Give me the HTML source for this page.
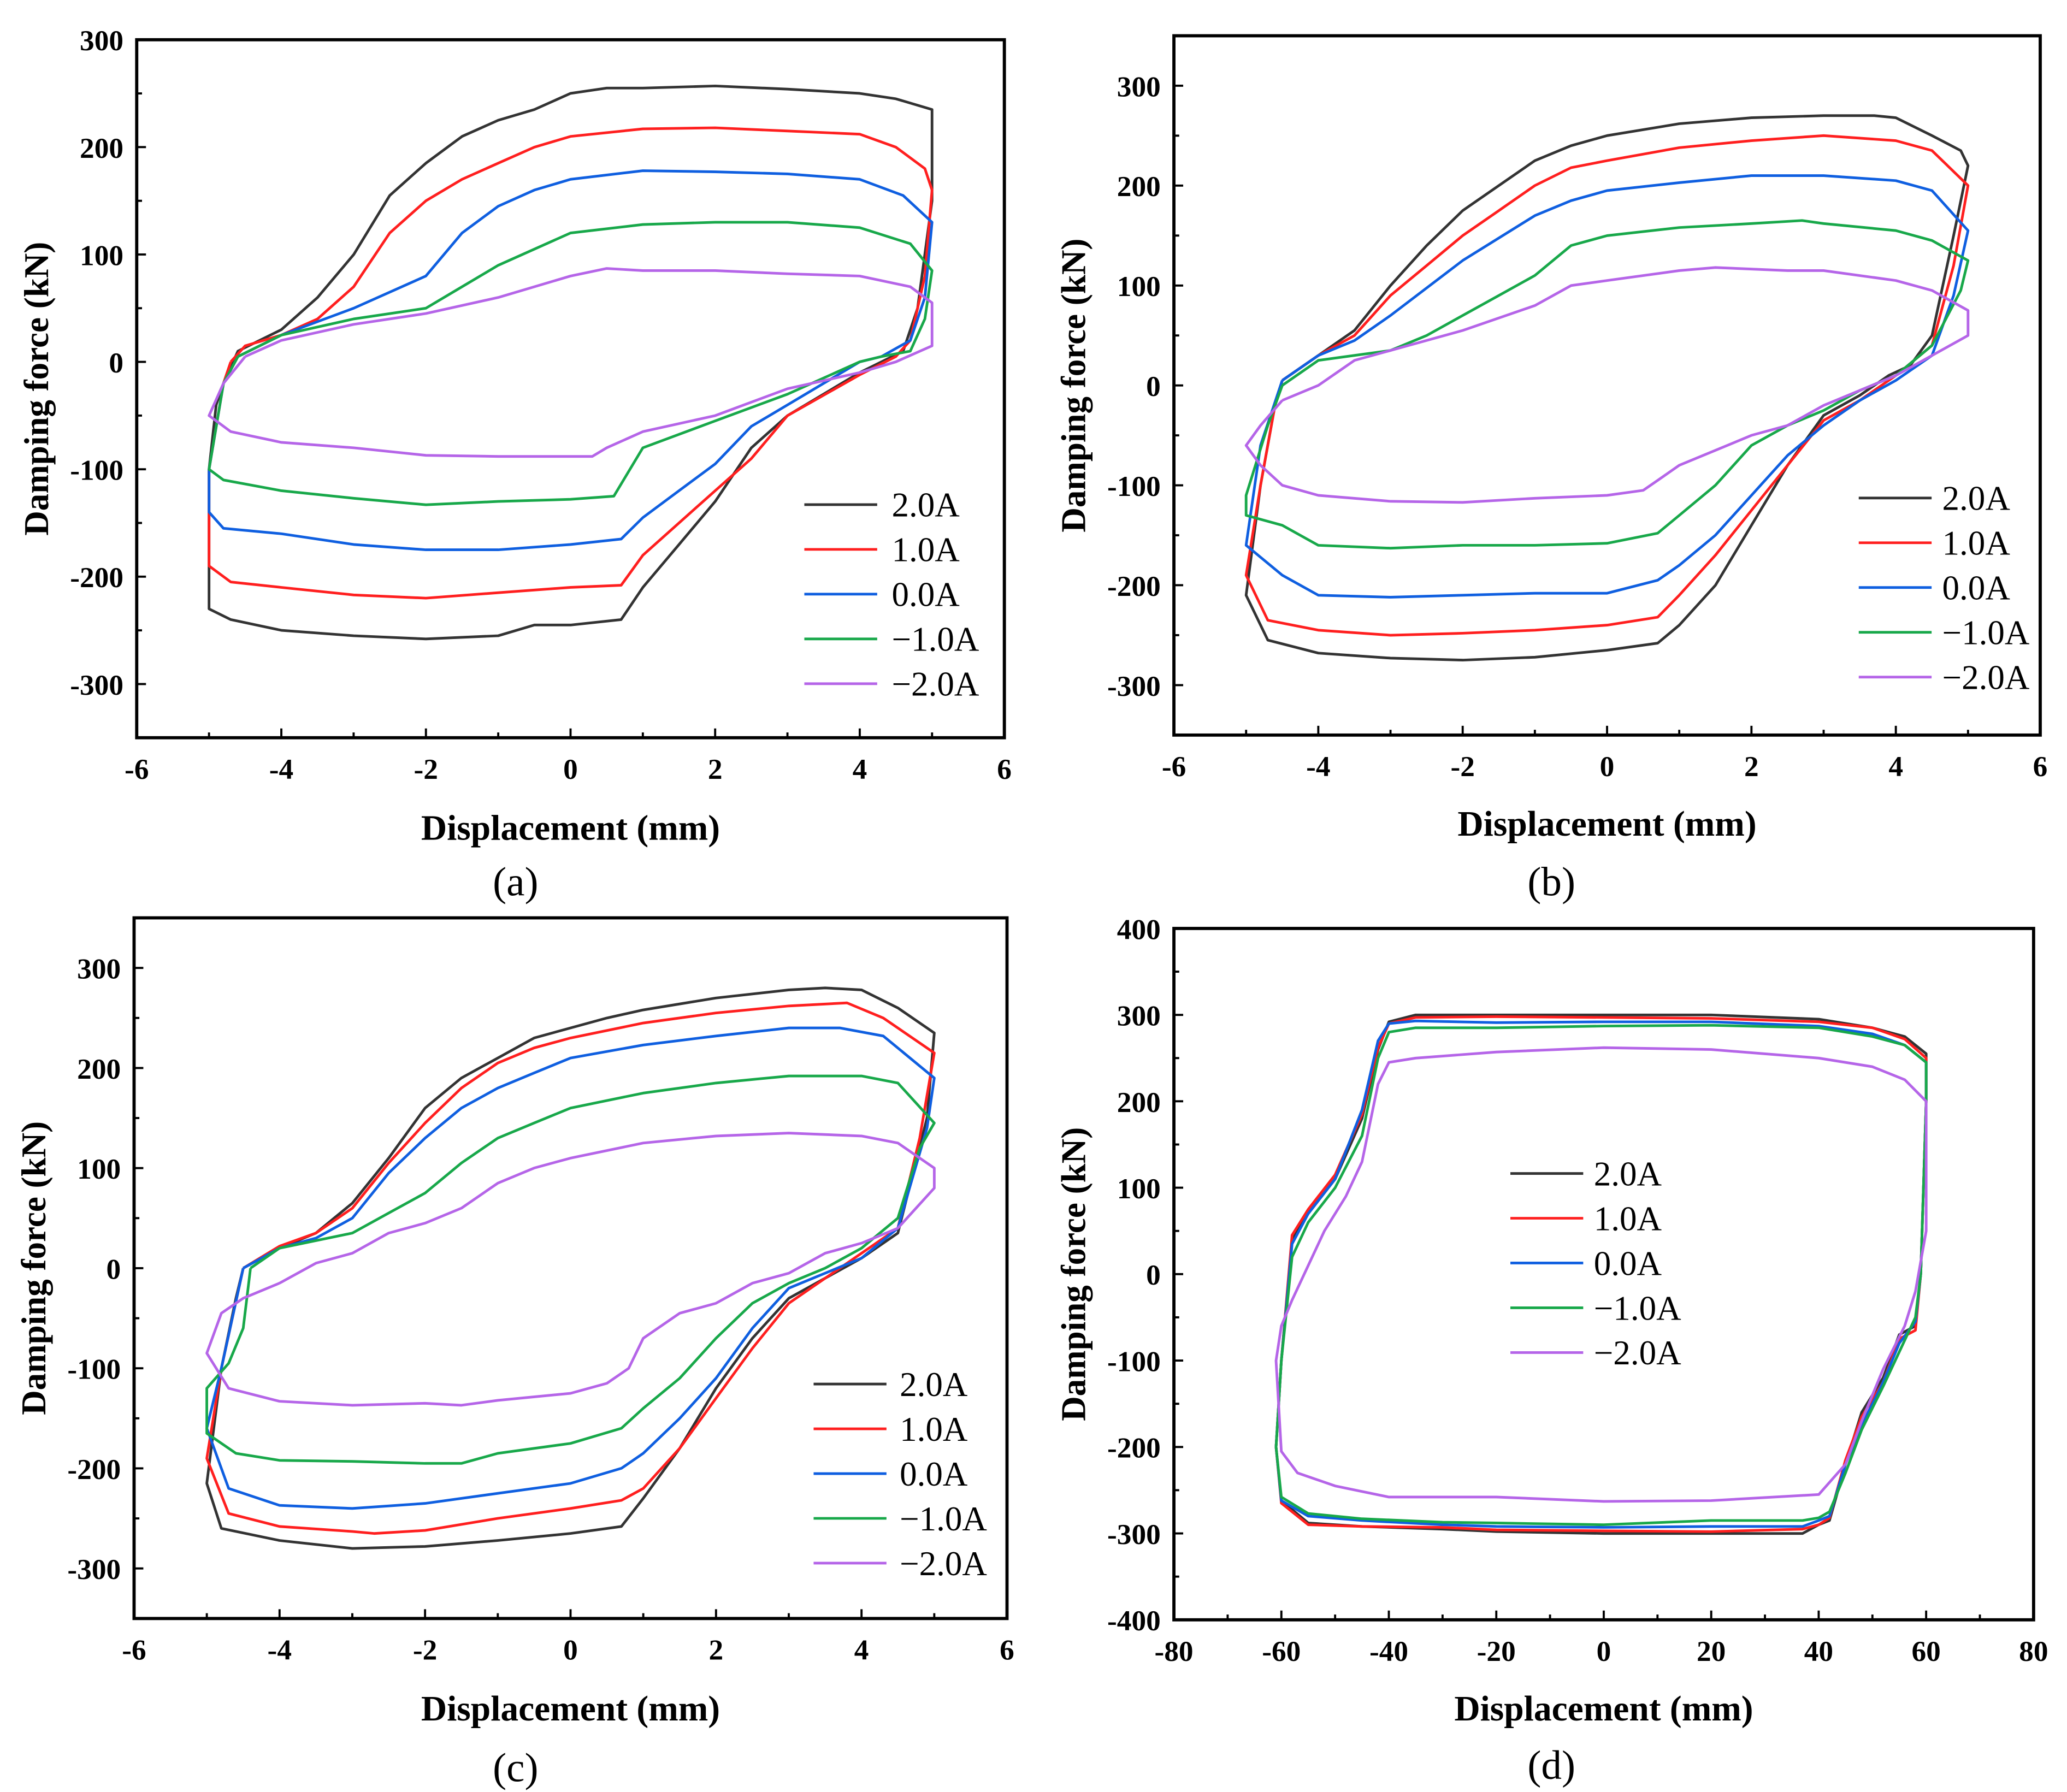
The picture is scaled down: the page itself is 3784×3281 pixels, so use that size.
<!DOCTYPE html>
<html><head><meta charset="utf-8"><style>
html,body{margin:0;padding:0;background:#fff;}
svg{display:block;font-family:"Liberation Serif",serif;}
</style></head><body>
<svg id="fig" width="3784" height="3281" viewBox="0 0 1560 1353" xmlns="http://www.w3.org/2000/svg"></svg>
<script>
// ---------- Panel (a) data ----------
const a2x=[-4.8,-4.6,-4,-3.5,-3,-2.5,-2,-1.5,-1,-0.5,0,0.5,1,2,3,4,4.5,5,5,4.8,4.6,4,3,2.5,2,1.5,1,0.7,0,-0.5,-1,-2,-3,-4,-4.7,-5,-5,-4.9,-4.8];
const a2y=[-20,10,30,60,100,155,185,210,225,235,250,255,255,257,254,250,245,235,150,50,10,-10,-50,-80,-130,-170,-210,-240,-245,-245,-255,-258,-255,-250,-240,-230,-100,-40,-20];
const a1x=[-4.7,-4.5,-4,-3.5,-3,-2.5,-2,-1.5,-1,-0.5,0,1,2,3,4,4.5,4.9,5,4.9,4.7,4.5,4,3,2.5,2,1.5,1,0.7,0,-1,-2,-3,-4,-4.7,-5,-5,-4.8,-4.7];
const a1y=[0,15,25,40,70,120,150,170,185,200,210,217,218,215,212,200,180,160,80,20,5,-12,-50,-90,-120,-150,-180,-208,-210,-215,-220,-217,-210,-205,-190,-100,-20,0];
const a0x=[-4.6,-4,-3,-2,-1.5,-1,-0.5,0,1,2,3,4,4.6,5,4.9,4.7,4.3,4,3,2.5,2,1.5,1,0.7,0,-1,-2,-3,-4,-4.8,-5,-5,-4.8,-4.6];
const a0y=[5,25,50,80,120,145,160,170,178,177,175,170,155,130,60,20,5,0,-40,-60,-95,-120,-145,-165,-170,-175,-175,-170,-160,-155,-140,-100,-20,5];
const am1x=[-4.6,-4,-3,-2,-1.5,-1,0,1,2,3,4,4.7,5,4.9,4.7,4.3,4,3,2,1,0.6,0,-1,-2,-3,-4,-4.8,-5,-4.8,-4.6];
const am1y=[5,25,40,50,70,90,120,128,130,130,125,110,85,40,10,5,0,-30,-55,-80,-125,-128,-130,-133,-127,-120,-110,-100,-20,5];
const am2x=[-4.5,-4,-3,-2,-1,0,0.5,1,2,3,4,4.7,5,5,4.5,4,3,2,1,0.5,0.3,0,-1,-2,-3,-4,-4.7,-5,-4.8,-4.5];
const am2y=[5,20,35,45,60,80,87,85,85,82,80,70,55,15,0,-10,-25,-50,-65,-80,-88,-88,-88,-87,-80,-75,-65,-50,-20,5];
// ---------- Panel (b) data ----------
const b2x=[-4.5,-4,-3.5,-3,-2.5,-2,-1.5,-1,-0.5,0,1,2,3,3.7,4,4.5,4.9,5,4.8,4.5,4.2,3.9,3.5,3,2.5,2,1.5,1,0.7,0,-1,-2,-3,-4,-4.7,-5,-4.8,-4.6,-4.5];
const b2y=[5,30,55,100,140,175,200,225,240,250,262,268,270,270,268,250,235,220,150,50,20,10,-10,-30,-80,-140,-200,-240,-258,-265,-272,-275,-273,-268,-255,-210,-100,-20,5];
const b1x=[-4.5,-4,-3.5,-3,-2.5,-2,-1.5,-1,-0.5,0,1,2,3,4,4.5,5,4.8,4.5,4,3.5,3,2.5,2,1.5,1,0.7,0,-1,-2,-3,-4,-4.7,-5,-4.8,-4.6,-4.5];
const b1y=[5,30,50,90,120,150,175,200,218,225,238,245,250,245,235,200,120,40,10,-15,-35,-80,-125,-170,-210,-232,-240,-245,-248,-250,-245,-235,-190,-100,-20,5];
const b0x=[-4.5,-4,-3.5,-3,-2,-1,-0.5,0,1,2,3,4,4.5,5,4.8,4.5,4,3.5,3,2.5,2,1.5,1,0.7,0,-1,-2,-3,-4,-4.5,-5,-4.8,-4.5];
const b0y=[5,30,45,70,125,170,185,195,203,210,210,205,195,155,90,30,5,-15,-40,-70,-110,-150,-180,-195,-208,-208,-210,-212,-210,-190,-160,-60,5];
const bm1x=[-4.5,-4,-3,-2.5,-2,-1.5,-1,-0.5,0,1,2,2.7,3,4,4.5,5,4.9,4.5,4,3.5,3,2.5,2,1.5,1,0.7,0,-1,-2,-3,-4,-4.5,-5,-5,-4.7,-4.5];
const bm1y=[0,25,35,50,70,90,110,140,150,158,162,165,162,155,145,125,95,40,10,-5,-25,-40,-60,-100,-130,-148,-158,-160,-160,-163,-160,-140,-130,-110,-40,0];
const bm2x=[-4.5,-4,-3.5,-3,-2,-1,-0.5,0,1,1.5,2.5,3,4,4.5,5,5,4.5,4,3.5,3,2.5,2,1.5,1,0.7,0.5,0,-1,-2,-3,-4,-4.5,-4.8,-5,-4.8,-4.5];
const bm2y=[-15,0,25,35,55,80,100,105,115,118,115,115,105,95,75,50,30,10,-5,-20,-40,-50,-65,-80,-95,-105,-110,-113,-117,-116,-110,-100,-80,-60,-40,-15];
// ---------- Panel (c) data ----------
const c2x=[-4.5,-4,-3.5,-3,-2.5,-2,-1.5,-1,-0.5,0,0.5,1,2,3,3.5,4,4.5,5,4.9,4.5,4,3,2.5,2,1.5,1,0.7,0,-1,-2,-3,-4,-4.8,-5,-4.8,-4.6,-4.5];
const c2y=[0,20,35,65,110,160,190,210,230,240,250,258,270,278,280,278,260,235,150,35,10,-30,-70,-120,-180,-230,-258,-265,-272,-278,-280,-272,-260,-215,-100,-30,0];
const c1x=[-4.5,-4,-3.5,-3,-2.5,-2,-1.5,-1,-0.5,0,1,2,3,3.8,4.3,5,4.8,4.5,4,3,2.5,2,1.5,1,0.7,0,-1,-2,-2.7,-3,-4,-4.7,-5,-4.8,-4.5];
const c1y=[0,22,35,60,105,145,180,205,220,230,245,255,262,265,250,215,130,40,15,-35,-80,-130,-180,-220,-232,-240,-250,-262,-265,-263,-258,-245,-190,-100,0];
const c0x=[-4.5,-4,-3.5,-3,-2.5,-2,-1.5,-1,-0.5,0,1,2,3,3.7,4.3,5,4.9,4.5,4,3,2.5,2,1.5,1,0.7,0,-1,-2,-3,-4,-4.7,-5,-4.8,-4.5];
const c0y=[0,20,30,50,95,130,160,180,195,210,223,232,240,240,232,190,140,40,10,-20,-60,-110,-150,-185,-200,-215,-225,-235,-240,-237,-220,-160,-100,0];
const cm1x=[-4.4,-4,-3,-2.5,-2,-1.5,-1,-0.5,0,1,2,3,4,4.5,5,4.8,4.5,4,3.5,3,2.5,2,1.5,1,0.7,0,-1,-1.5,-2,-3,-4,-4.6,-5,-5,-4.7,-4.5,-4.4];
const cm1y=[0,20,35,55,75,105,130,145,160,175,185,192,192,185,145,120,50,20,0,-15,-35,-70,-110,-140,-160,-175,-185,-195,-195,-193,-192,-185,-165,-120,-95,-60,0];
const cm2x=[-4,-3.5,-3,-2.5,-2,-1.5,-1,-0.5,0,1,2,3,4,4.5,5,5,4.5,4,3.5,3,2.5,2,1.5,1,0.8,0.5,0,-1,-1.5,-2,-3,-4,-4.7,-5,-4.8,-4.5,-4];
const cm2y=[-15,5,15,35,45,60,85,100,110,125,132,135,132,125,100,80,40,25,15,-5,-15,-35,-45,-70,-100,-115,-125,-132,-137,-135,-137,-133,-120,-85,-45,-30,-15];
// ---------- Panel (d) data ----------
const d2x=[-60,-58,-55,-50,-45,-42,-40,-35,-20,0,20,40,50,56,60,60,59,58,55,52,48,45,42,40,37,20,0,-20,-30,-45,-55,-60,-61,-60];
const d2y=[-100,40,70,110,180,260,292,300,300,300,300,295,285,275,255,200,0,-60,-70,-120,-160,-220,-285,-290,-300,-300,-300,-298,-295,-292,-288,-262,-200,-100];
const d1x=[-60,-58,-55,-50,-45,-42,-40,-35,-20,0,20,40,50,56,60,60,59,58,55,52,48,45,42,40,37,20,0,-20,-30,-45,-55,-60,-61,-60];
const d1y=[-100,45,75,115,185,262,290,297,298,297,296,292,285,272,250,200,0,-65,-75,-125,-165,-215,-282,-290,-295,-298,-297,-296,-293,-292,-290,-265,-200,-100];
const d0x=[-60,-58,-55,-50,-45,-42,-40,-35,-20,0,20,40,50,56,60,60,59,58,55,52,48,45,42,40,37,20,0,-20,-30,-45,-55,-60,-61,-60];
const d0y=[-100,35,70,110,190,270,290,293,291,292,292,287,278,265,245,200,0,-55,-80,-125,-175,-220,-280,-285,-292,-292,-293,-292,-290,-285,-280,-262,-200,-100];
const dm1x=[-60,-58,-55,-50,-45,-42,-40,-35,-20,0,20,40,50,56,60,60,59,58,55,52,48,45,42,40,37,20,0,-20,-30,-45,-55,-60,-61,-60];
const dm1y=[-100,20,60,100,160,250,280,285,285,287,288,285,275,265,245,200,0,-50,-90,-130,-180,-230,-275,-282,-285,-285,-290,-288,-287,-283,-277,-258,-200,-100];
const dm2x=[-58,-55,-52,-48,-45,-42,-40,-35,-20,0,20,40,50,56,60,60,58,56,52,48,45,40,20,0,-20,-40,-50,-57,-60,-61,-60,-58];
const dm2y=[-30,10,50,90,130,220,245,250,257,262,260,250,240,225,200,50,-20,-60,-110,-170,-220,-255,-262,-263,-258,-258,-245,-230,-205,-100,-60,-30];

const legendNames=["2.0A","1.0A","0.0A","\u22121.0A","\u22122.0A"];
const colors=["#333333","#ff1f1f","#0f5fe0","#18a84a","#b565e8"];
const xTicksAB=[-6,-4,-2,0,2,4,6];
const yTicksA=[-300,-200,-100,0,100,200,300];
const xTicksD=[-80,-60,-40,-20,0,20,40,60,80];
const yTicksD=[-400,-300,-200,-100,0,100,200,300,400];

const NS="http://www.w3.org/2000/svg";
const svg=document.getElementById('fig');
function mk(tag,attrs,parent){const e=document.createElementNS(NS,tag);for(const k in attrs)e.setAttribute(k,attrs[k]);(parent||svg).appendChild(e);return e;}

const panels=[
 {id:"a",L:103,R:758,T:30,B:557,x0:-6,x1:6,y0:-350,y1:300,xt:xTicksAB,yt:yTicksA,xm:1,ym:50,
  series:[[a2x,a2y],[a1x,a1y],[a0x,a0y],[am1x,am1y],[am2x,am2y]],leg:{lx:607,tx:677,y:381,dy:33.8},
  ytx:27,xlab:625,cap:[389,666]},
 {id:"b",L:886,R:1540,T:27,B:555,x0:-6,x1:6,y0:-350,y1:350,xt:xTicksAB,yt:yTicksA,xm:1,ym:50,
  series:[[b2x,b2y],[b1x,b1y],[b0x,b0y],[bm1x,bm1y],[bm2x,bm2y]],leg:{lx:1403,tx:1470,y:376,dy:33.8},
  ytx:810,xlab:622,cap:[1171,666]},
 {id:"c",L:101,R:760,T:693,B:1222,x0:-6,x1:6,y0:-350,y1:350,xt:xTicksAB,yt:yTicksA,xm:1,ym:50,
  series:[[c2x,c2y],[c1x,c1y],[c0x,c0y],[cm1x,cm1y],[cm2x,cm2y]],leg:{lx:614,tx:683,y:1045,dy:33.8},
  ytx:25,xlab:1290,cap:[389,1335]},
 {id:"d",L:886,R:1535,T:701,B:1223,x0:-80,x1:80,y0:-400,y1:400,xt:xTicksD,yt:yTicksD,xm:10,ym:50,
  series:[[d2x,d2y],[d1x,d1y],[d0x,d0y],[dm1x,dm1y],[dm2x,dm2y]],leg:{lx:1140,tx:1207,y:886,dy:33.8},
  ytx:810,xlab:1290,cap:[1171,1333]}
];

panels.forEach(p=>{
  const g=mk('g',{});
  
  
  const sx=v=>p.L+(v-p.x0)/(p.x1-p.x0)*(p.R-p.L);
  const sy=v=>p.B-(v-p.y0)/(p.y1-p.y0)*(p.B-p.T);
  p.series.forEach((s,i)=>{
    const pts=s[0].map((x,j)=>sx(x).toFixed(1)+","+sy(s[1][j]).toFixed(1)).join(" ");
    const pl=mk('polyline',{points:pts,fill:"none",stroke:colors[i],"stroke-width":2,"stroke-linejoin":"round"},g);
    
    
  });
  const fr=mk('rect',{x:p.L,y:p.T,width:p.R-p.L,height:p.B-p.T,fill:"none",stroke:"#000","stroke-width":2.4},g);
  
  
  for(let v=p.x0;v<=p.x1+1e-9;v+=p.xm){
    const major=p.xt.some(t=>Math.abs(t-v)<1e-9);
    mk('line',{x1:sx(v),x2:sx(v),y1:p.B,y2:p.B-(major?7:4),stroke:"#000","stroke-width":1.6},g);
  }
  p.xt.forEach(v=>{
    const t=mk('text',{x:sx(v),y:p.B+31,"text-anchor":"middle","font-size":22,"font-weight":"bold"},g);
    t.textContent=v<0?"-"+Math.abs(v):String(v);
    
    
  });
  for(let v=Math.ceil(p.y0/p.ym)*p.ym;v<=p.y1+1e-9;v+=p.ym){
    const major=p.yt.some(t=>Math.abs(t-v)<1e-9);
    mk('line',{x1:p.L,x2:p.L+(major?7:4),y1:sy(v),y2:sy(v),stroke:"#000","stroke-width":1.6},g);
  }
  p.yt.forEach(v=>{
    if(v<p.y0||v>p.y1)return;
    const t=mk('text',{x:p.L-10,y:sy(v)+8,"text-anchor":"end","font-size":22,"font-weight":"bold"},g);
    t.textContent=String(v);
    
    
  });
  const cy=(p.T+p.B)/2;
  const yt=mk('text',{x:p.ytx+9,y:cy,transform:`rotate(-90 ${p.ytx+9} ${cy})`,"text-anchor":"middle","font-size":26,"font-weight":"bold"},g);
  yt.textContent="Damping force (kN)";
  
  
  const xt=mk('text',{x:(p.L+p.R)/2,y:p.xlab+9,"text-anchor":"middle","font-size":27,"font-weight":"bold"},g);
  xt.textContent="Displacement (mm)";
  
  
  const cap=mk('text',{x:p.cap[0],y:p.cap[1]+10,"text-anchor":"middle","font-size":31},g);
  cap.textContent="("+p.id+")";
  
  
  legendNames.forEach((n,i)=>{
    const y=p.leg.y+i*p.leg.dy;
    const ln=mk('line',{x1:p.leg.lx,x2:p.leg.lx+55,y1:y,y2:y,stroke:colors[i],"stroke-width":2},g);
    
    
    const t=mk('text',{x:p.leg.tx-4,y:y+9,"font-size":26},g);
    t.textContent=n;
    
    
  });
});
</script>
</body></html>
